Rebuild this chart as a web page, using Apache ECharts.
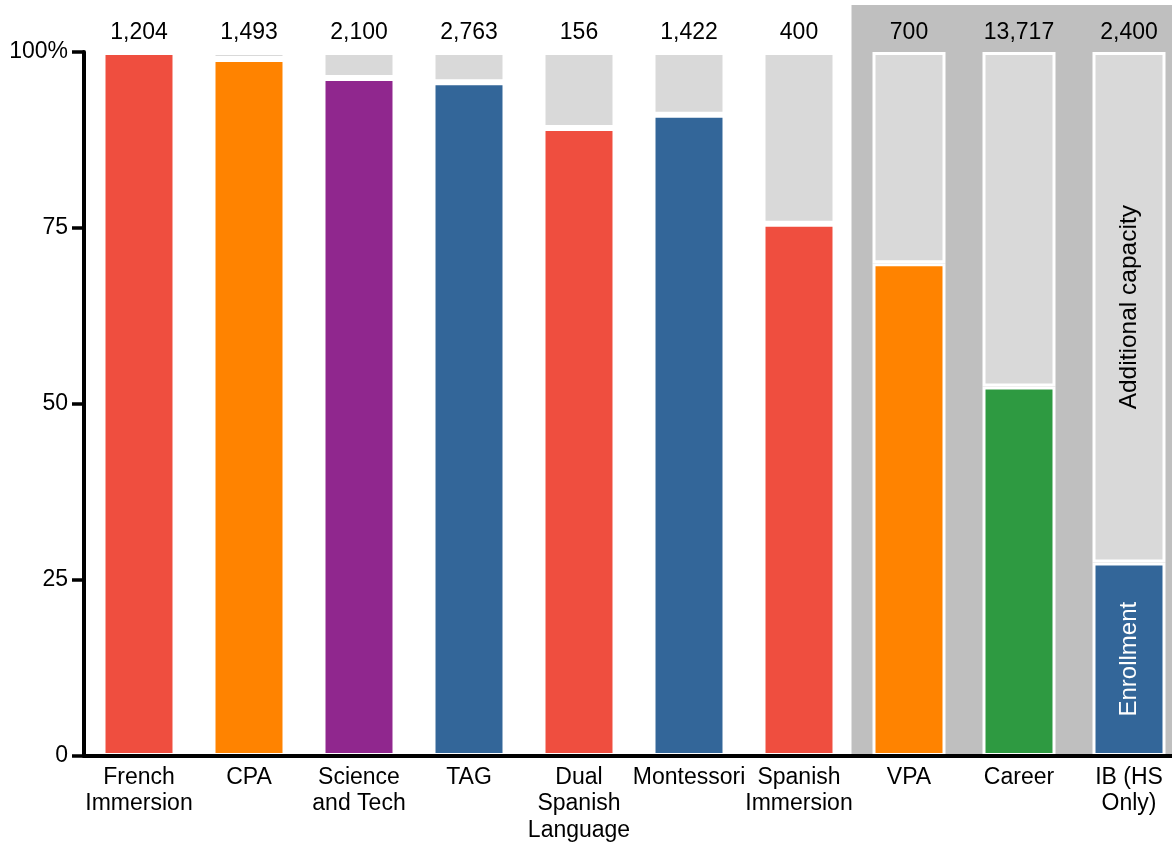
<!DOCTYPE html>
<html>
<head>
<meta charset="utf-8">
<title>Program enrollment vs. capacity</title>
<script src="https://cdn.jsdelivr.net/npm/echarts@6/dist/echarts.min.js"></script>
<style>
  html, body { margin: 0; padding: 0; background: #ffffff; }
  #chart { width: 1172px; height: 843px; }
</style>
</head>
<body>
<div id="chart"></div>
<script>
// Programs, in display order (line breaks are the axis label wrapping)
const categories = [
  'French\nImmersion', 'CPA', 'Science\nand Tech', 'TAG', 'Dual\nSpanish\nLanguage',
  'Montessori', 'Spanish\nImmersion', 'VPA', 'Career', 'IB (HS\nOnly)'
];
// Total seats per program, shown above each bar
const capacityTotals = [1204, 1493, 2100, 2763, 156, 1422, 400, 700, 13717, 2400];
// Share of capacity that is filled (%)
const enrollmentPct = [100, 99.0, 96.3, 95.7, 89.2, 91.1, 75.6, 70.0, 52.5, 27.5];
// Programs grouped in the shaded block on the right
const shadedPrograms = ['VPA', 'Career', 'IB (HS\nOnly)'];
// Y axis ticks
const yTicks = [0, 25, 50, 75, 100];

const programColors = ['#ef4e3f', '#ff8300', '#90278e', '#336699', '#ef4e3f',
                       '#336699', '#ef4e3f', '#ff8300', '#2e9a41', '#336699'];
const remainderColor = '#d9d9d9';
const shadeColor = '#bfbfbf';
const FONT = '"Liberation Sans", Arial, Helvetica, sans-serif';

const additionalPct = enrollmentPct.map(v => +(100 - v).toFixed(2));
const lastIdx = categories.length - 1;

const enrollmentData = enrollmentPct.map((v, i) => {
  const item = { value: v, itemStyle: { color: programColors[i] } };
  if (i === lastIdx) {
    item.label = {
      show: true, position: 'inside', rotate: 90, formatter: 'Enrollment',
      color: '#ffffff', fontFamily: FONT, fontSize: 24, textBorderWidth: 0
    };
  }
  return item;
});

const additionalData = additionalPct.map((v, i) => {
  const item = { value: v };
  if (i === lastIdx) {
    item.label = {
      show: true, position: 'inside', rotate: 90, formatter: 'Additional capacity',
      color: '#000000', fontFamily: FONT, fontSize: 24.5, textBorderWidth: 0
    };
  }
  return item;
});

const shadeData = categories.map(c => shadedPrograms.includes(c) ? 1 : null);

const chart = echarts.init(document.getElementById('chart'), null, { renderer: 'canvas' });

chart.setOption({
  animation: false,
  backgroundColor: '#ffffff',
  grid: [
    { left: 84, top: 52, width: 1100, height: 704, outerBoundsMode: 'none', containLabel: false },
    { left: 84, top: 5, width: 1100, height: 751, outerBoundsMode: 'none', containLabel: false }
  ],
  xAxis: [
    {
      type: 'category', gridIndex: 0, data: categories, z: 6,
      axisLine: { show: true, lineStyle: { color: '#000000', width: 4 } },
      axisTick: { show: false },
      axisLabel: {
        interval: 0, color: '#000000', fontFamily: FONT, fontSize: 23,
        lineHeight: 26.5, margin: 8
      }
    },
    {
      type: 'category', gridIndex: 1, data: categories, show: false
    }
  ],
  yAxis: [
    {
      type: 'value', gridIndex: 0, min: 0, max: 100, interval: 25, z: 6,
      axisLine: { show: true, lineStyle: { color: '#000000', width: 4 } },
      axisTick: { show: true, length: 12, lineStyle: { color: '#000000', width: 3.5 } },
      splitLine: { show: false },
      axisLabel: {
        color: '#000000', fontFamily: FONT, fontSize: 23, margin: 16,
        formatter: v => (yTicks.includes(v) ? (v === 100 ? '100%' : String(v)) : '')
      }
    },
    {
      type: 'value', gridIndex: 1, min: 0, max: 1, show: false
    }
  ],
  series: [
    {
      name: 'Shaded group', type: 'bar', xAxisIndex: 1, yAxisIndex: 1,
      data: shadeData, barWidth: 115, z: 0, silent: true,
      itemStyle: { color: shadeColor }
    },
    {
      name: 'Enrollment', type: 'bar', stack: 'share', data: enrollmentData,
      barWidth: 73, z: 2,
      itemStyle: { borderColor: '#ffffff', borderWidth: 3 }
    },
    {
      name: 'Additional capacity', type: 'bar', stack: 'share', data: additionalData,
      barWidth: 73, z: 2,
      itemStyle: { color: remainderColor, borderColor: '#ffffff', borderWidth: 3 }
    },
    {
      // invisible full-height bars that carry the capacity totals above each column
      name: 'Capacity', type: 'bar', data: categories.map(() => 100),
      barWidth: 73, barGap: '-100%', z: 1, silent: true,
      itemStyle: { color: 'rgba(255,255,255,0)', borderWidth: 0 },
      label: {
        show: true, position: 'top', distance: 8, color: '#000000',
        fontFamily: FONT, fontSize: 23, textBorderWidth: 0,
        formatter: p => capacityTotals[p.dataIndex].toLocaleString('en-US')
      }
    }
  ]
});
</script>
</body>
</html>
